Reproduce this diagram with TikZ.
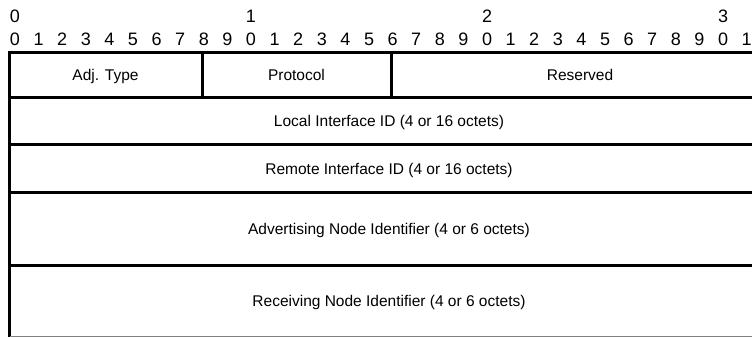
\documentclass[tikz,border=0pt]{standalone}
\usepackage{fontspec}
\setmainfont{Liberation Sans}
\begin{document}
\begin{tikzpicture}[x=1pt,y=-1pt,
  thick line/.style={line width=3pt, line cap=rect},
  digit/.style={font=\fontsize{18}{18}\selectfont, inner sep=0pt, text height=12.9pt, text depth=0pt},
  field/.style={font=\fontsize{15.5}{15.5}\selectfont, inner sep=0pt, text height=11.1pt, text depth=0pt}]
\useasboundingbox (0,0) rectangle (752,337);
\begin{scope}
\clip (0,0) rectangle (752,337);
% bit numbers
\foreach \i in {0,...,31}{
  \pgfmathtruncatemacro{\d}{mod(\i,10)}
  \node[digit] (b\i) at ({15+\i*23.6},39) {\d};
}
\foreach \t/\i in {0/0,1/10,2/20,3/30}{
  \node[digit] (t\t) at ({15+\i*23.6},16) {\t};
}
% frame coordinates
\coordinate (tl) at (9.5,52.5);
\coordinate (tr) at (775,52.5);
\coordinate (r1l) at (9.5,97);
\coordinate (r1r) at (775,97);
\coordinate (r2l) at (9.5,144.5);
\coordinate (r2r) at (775,144.5);
\coordinate (r3l) at (9.5,192);
\coordinate (r3r) at (775,192);
\coordinate (r4l) at (9.5,265);
\coordinate (r4r) at (775,265);
\coordinate (bl) at (9.5,337);
\coordinate (v1t) at (202,52.5);
\coordinate (v1b) at (202,97);
\coordinate (v2t) at (391,52.5);
\coordinate (v2b) at (391,97);
\draw[thick line] (tl) -- (tr);
\draw[thick line] (r1l) -- (r1r);
\draw[thick line] (r2l) -- (r2r);
\draw[thick line] (r3l) -- (r3r);
\draw[thick line] (r4l) -- (r4r);
\draw[thick line] (tl) -- (bl);
\draw[thick line] (v1t) -- (v1b);
\draw[thick line] (v2t) -- (v2b);
\draw[gray, line width=1pt] (9.5,336.5) -- (752,336.5);
% fields
\node[field] (adj) at (105.5,75) {Adj. Type};
\node[field] (proto) at (296.5,75) {Protocol};
\node[field] (res) at (580,75) {Reserved};
\node[field] (lid) at (389,121) {Local Interface ID (4 or 16 octets)};
\node[field] (rid) at (389,168.5) {Remote Interface ID (4 or 16 octets)};
\node[field] (anid) at (389,228.5) {Advertising Node Identifier (4 or 6 octets)};
\node[field] (rnid) at (389,301) {Receiving Node Identifier (4 or 6 octets)};
\end{scope}
\end{tikzpicture}
\end{document}
